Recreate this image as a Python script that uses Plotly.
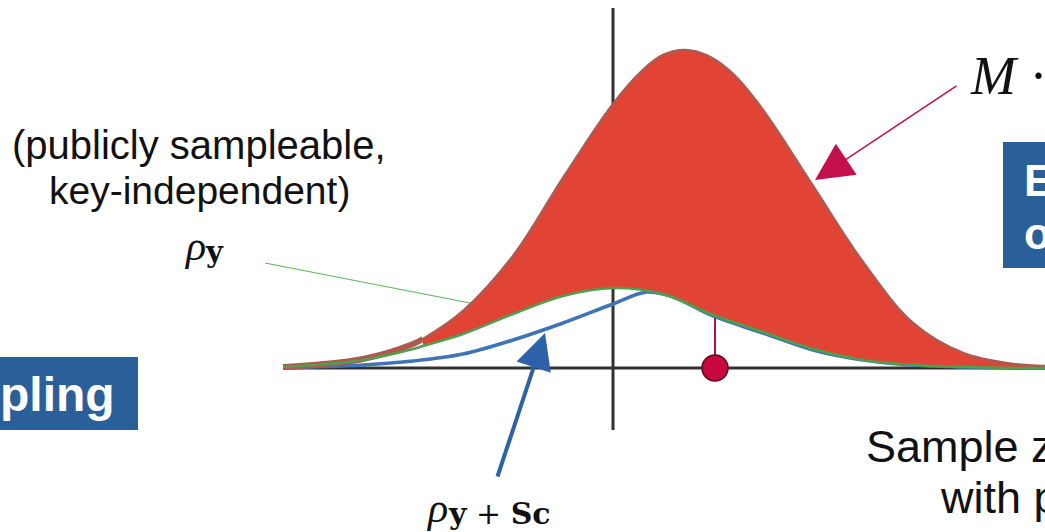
import plotly.graph_objects as go

# ---- curve samples: x in axis units (0 = vertical axis), y = density height ----
RED_X = [-3.3, -3.0, -2.5, -2.0, -1.9, -1.5, -1.0, -0.5, 0.0, 0.3, 0.5, 0.72, 0.95, 1.2, 1.5, 2.0, 2.5, 3.0, 3.5, 4.0, 4.32]
RED_Y = [0.01, 0.03, 0.09, 0.24, 0.29, 0.57, 1.12, 1.90, 2.64, 2.98, 3.13, 3.18, 3.12, 2.94, 2.58, 1.82, 1.06, 0.45, 0.15, 0.04, 0.02]

GREEN_X = [-3.3, -3.0, -2.5, -2.0, -1.9, -1.5, -1.0, -0.5, 0.0, 0.5, 1.0, 1.5, 2.0, 2.5, 3.0, 3.5, 4.0, 4.32]
GREEN_Y = [0.01, 0.03, 0.08, 0.19, 0.22, 0.34, 0.54, 0.72, 0.80, 0.74, 0.53, 0.36, 0.19, 0.08, 0.03, 0.01, 0.0, 0.0]

BLUE_X = [-3.3, -3.0, -2.5, -2.0, -1.5, -1.0, -0.5, 0.0, 0.34, 0.6, 1.0, 1.5, 2.0, 2.5, 3.0, 3.5, 4.0, 4.32]
BLUE_Y = [0.0, 0.01, 0.03, 0.07, 0.14, 0.28, 0.45, 0.64, 0.76, 0.71, 0.52, 0.35, 0.18, 0.08, 0.03, 0.01, 0.0, 0.0]

FILL_FROM = -1.9          # rejection region (red) starts here
SAMPLE_X = 1.02           # the drawn sample z
SAMPLE_STEM_TOP = 0.50

W, H = 1045, 532
OX, OY, UNIT = 613, 368, 100.0   # pixel position of the origin, pixels per unit


def ux(p):
    return (p - OX) / UNIT


def uy(p):
    return (OY - p) / UNIT


RED_LINE = "#ad5a52"
RED_TAIL = "#b4564c"
RED_FILL = "#e14434"
GREEN = "#4e9f4e"
BLUE = "#3f74b5"
BOX_BLUE = "#2b5f99"
CRIMSON = "#c4104a"
INK = "#111111"
SANS = "Liberation Sans, Arial, sans-serif"
SERIF = "Liberation Serif, DejaVu Serif, serif"
SUB_FONT = "DejaVu Serif, Liberation Serif, serif"

fig = go.Figure()

fig.add_trace(go.Scatter(x=BLUE_X, y=BLUE_Y, mode="lines", line=dict(color=BLUE, width=3.5, shape="spline"),
                         hoverinfo="skip"))

gx = [x for x in GREEN_X if x >= FILL_FROM]
gy = [y for x, y in zip(GREEN_X, GREEN_Y) if x >= FILL_FROM]
rx = [x for x in RED_X if x >= FILL_FROM]
ry = [y for x, y in zip(RED_X, RED_Y) if x >= FILL_FROM]
fig.add_trace(go.Scatter(x=gx, y=gy, mode="lines", line=dict(width=0, shape="spline"), hoverinfo="skip"))
fig.add_trace(go.Scatter(x=rx, y=ry, mode="lines", fill="tonexty", fillcolor=RED_FILL,
                         line=dict(width=0, shape="spline"), hoverinfo="skip"))

# thick left tail of M * rho, then the thin outline over the whole curve
tx = [x for x in RED_X if x <= FILL_FROM]
ty = [y for x, y in zip(RED_X, RED_Y) if x <= FILL_FROM]
fig.add_trace(go.Scatter(x=tx, y=ty, mode="lines", line=dict(color=RED_TAIL, width=6, shape="spline"),
                         hoverinfo="skip"))
fig.add_trace(go.Scatter(x=RED_X, y=RED_Y, mode="lines", line=dict(color=RED_LINE, width=2.5, shape="spline"),
                         hoverinfo="skip"))
fig.add_trace(go.Scatter(x=GREEN_X, y=GREEN_Y, mode="lines", line=dict(color=GREEN, width=2.5, shape="spline"),
                         hoverinfo="skip"))

# sample z: stem and dot
fig.add_trace(go.Scatter(x=[SAMPLE_X, SAMPLE_X], y=[SAMPLE_STEM_TOP, 0], mode="lines",
                         line=dict(color="#b5124a", width=2), hoverinfo="skip"))
fig.add_trace(go.Scatter(x=[SAMPLE_X], y=[0], mode="markers",
                         marker=dict(size=26, color="#c8073e", line=dict(color="#5a0a1e", width=1.5)),
                         hoverinfo="skip"))

shapes = [
    # coordinate axes
    dict(type="line", x0=0, x1=0, y0=uy(8), y1=uy(430), line=dict(color="#333333", width=3), layer="below"),
    dict(type="line", x0=ux(283), x1=ux(1045), y0=0, y1=0, line=dict(color="#333333", width=3), layer="below"),
    # pointer from the rho_y label
    dict(type="line", x0=ux(265), y0=uy(263), x1=ux(470), y1=uy(303), line=dict(color="#5cb85c", width=1.2),
         layer="below"),
    # blue title boxes
    dict(type="rect", x0=ux(-5), x1=ux(138), y0=uy(357), y1=uy(430), fillcolor=BOX_BLUE, line=dict(width=0)),
    dict(type="rect", x0=ux(1003), x1=ux(1060), y0=uy(142), y1=uy(268), fillcolor=BOX_BLUE, line=dict(width=0)),
]


def label(px, py, text, family, size, anchor="left", color=INK):
    return dict(x=ux(px), y=uy(py), xanchor=anchor, text=text, showarrow=False,
                font=dict(family=family, size=size, color=color))


annotations = [
    label(199, 145, "(publicly sampleable,", SANS, 40, "center"),
    label(199, 190, "key-independent)", SANS, 39, "center"),
    # rho_y
    label(182, 246, "<i>ρ</i>", SERIF, 42),
    label(203, 252, "<b>y</b>", SUB_FONT, 29),
    # rho_{y+Sc}
    label(424, 508, "<i>ρ</i>", SERIF, 42),
    label(446, 513, "<b>y</b> + <b>Sc</b>", SUB_FONT, 30),
    label(968, 76, "<i>M</i> ·", SERIF, 54),
    label(117, 394, "<b>pling</b>", SANS, 48, "right", "white"),
    label(1022, 180, "<b>E</b>", SANS, 44, "left", "white"),
    label(1022, 233, "<b>o</b>", SANS, 44, "left", "white"),
    label(864, 446, "Sample z", SANS, 45),
    label(938, 497, "with p", SANS, 45),
    # arrows
    dict(x=ux(815), y=uy(180), ax=ux(958), ay=uy(85), xref="x", yref="y", axref="x", ayref="y",
         text="", showarrow=True, arrowhead=2, arrowsize=5, arrowwidth=1.5, arrowcolor=CRIMSON),
    dict(x=ux(545), y=uy(333), ax=ux(497), ay=uy(478), xref="x", yref="y", axref="x", ayref="y",
         text="", showarrow=True, arrowhead=2, arrowsize=1.8, arrowwidth=4, arrowcolor="#2e62a8"),
]

fig.update_layout(
    width=W, height=H, margin=dict(l=0, r=0, t=0, b=0),
    paper_bgcolor="white", plot_bgcolor="white", showlegend=False,
    xaxis=dict(range=[ux(0), ux(W)], visible=False, fixedrange=True),
    yaxis=dict(range=[uy(H), uy(0)], visible=False, fixedrange=True),
    shapes=shapes, annotations=annotations,
)

fig.write_html("out.html")
